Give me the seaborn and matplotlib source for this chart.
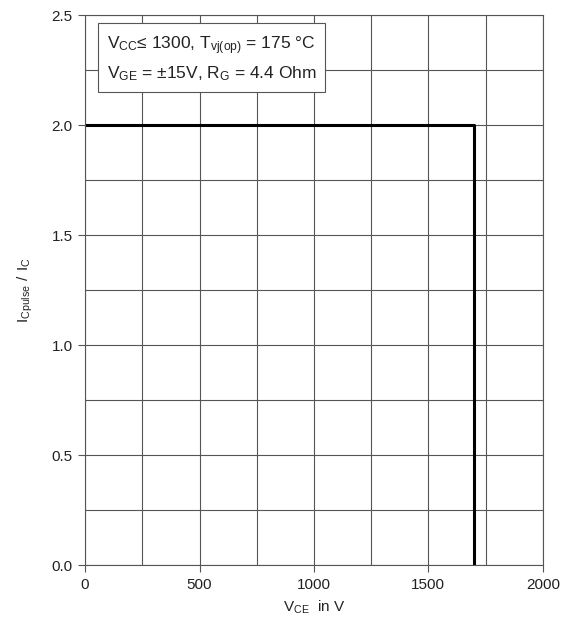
import matplotlib
matplotlib.use("Agg")
import matplotlib.pyplot as plt
import seaborn as sns
from matplotlib.ticker import MultipleLocator

# data
vce = [0, 1700, 1700]
ic_ratio = [2.0, 2.0, 0.0]

sns.set_style("white")
plt.rcParams['font.family'] = ['Liberation Sans', 'DejaVu Sans']
plt.rcParams['mathtext.fontset'] = 'custom'
plt.rcParams['mathtext.rm'] = 'Liberation Sans'

fig = plt.figure(figsize=(5.75, 6.28), dpi=100)
ax = fig.add_axes([0.148, 0.100, 0.796, 0.876])

sns.lineplot(x=vce, y=ic_ratio, sort=False, estimator=None, errorbar=None,
             color='black', linewidth=2.2, ax=ax)

ax.set_xlim(0, 2000)
ax.set_ylim(0, 2.5)
ax.xaxis.set_major_locator(MultipleLocator(500))
ax.xaxis.set_minor_locator(MultipleLocator(250))
ax.yaxis.set_major_locator(MultipleLocator(0.5))
ax.yaxis.set_minor_locator(MultipleLocator(0.25))
ax.yaxis.set_major_formatter(matplotlib.ticker.FormatStrFormatter('%.1f'))
ax.grid(True, which='both', color='#555555', linewidth=0.8)
ax.set_axisbelow(True)
ax.tick_params(which='major', direction='out', length=5, width=0.8, color='#555555',
               bottom=True, left=True, labelsize=11, labelcolor='#222222', pad=4)
ax.tick_params(which='minor', length=0)
for s in ax.spines.values():
    s.set_color('#555555')
    s.set_linewidth(0.8)

ax.set_xlabel(r'$\mathregular{V_{CE}}$  in V', fontsize=11, color='#222222', labelpad=5)
ax.set_ylabel(r'$\mathregular{I_{Cpulse}\ /\ I_C}$', fontsize=11, color='#222222', labelpad=12)

txt = (r'$\mathregular{V_{CC}}$≤ 1300, $\mathregular{T_{vj(op)}}$ = 175 °C' + '\n'
       r'$\mathregular{V_{GE}}$ = ±15V, $\mathregular{R_G}$ = 4.4 Ohm')
ax.text(95, 2.41, txt, fontsize=12.5, color='#222222', va='top', ha='left',
        linespacing=1.5,
        bbox=dict(boxstyle='square,pad=0.5', facecolor='white', edgecolor='#555555', linewidth=0.8))

fig.savefig('out.png', dpi=100)
